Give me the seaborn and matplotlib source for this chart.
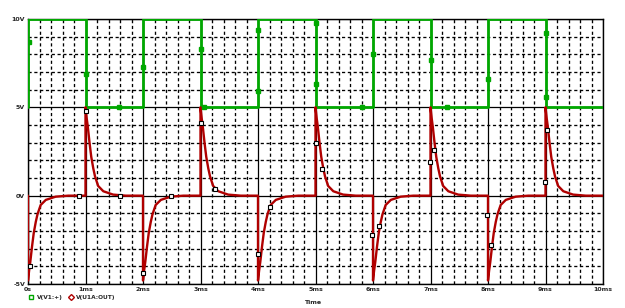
import matplotlib
matplotlib.use("Agg")
import matplotlib.pyplot as plt
import seaborn as sns
import numpy as np
import pandas as pd

# ---------------- data ----------------
edge_times_ms = [0, 1, 2, 3, 4, 5, 6, 7, 8, 9]
green_levels = [10, 5, 10, 5, 10, 5, 10, 5, 10, 5]          # V(V1:+) after each edge
green_start = 5
spike_peaks = [-4.8, 5.0, -4.8, 5.0, -4.8, 5.0, -4.8, 5.0, -4.8, 5.0]  # V(U1A:OUT) at edges
decay_offsets_ms = [0, 0.02, 0.04, 0.07, 0.10, 0.135, 0.165, 0.22, 0.31, 0.48, 0.7]
decay_fraction = [1.0, 0.88, 0.78, 0.60, 0.44, 0.31, 0.22, 0.11, 0.05, 0.012, 0.0]

green_marker_t = [0.01, 1.0, 1.58, 2.0, 3.0, 3.06, 4.0, 4.0, 5.0, 5.0, 5.81, 6.0, 7.0, 7.29, 8.0, 9.0, 9.0]
green_marker_v = [8.7, 6.9, 5.0, 7.3, 8.3, 5.0, 9.4, 5.9, 9.8, 6.3, 5.0, 8.0, 7.7, 5.0, 6.6, 9.2, 5.6]
red_marker_t = [0.03, 0.89, 1.0, 1.6, 2.0, 2.49, 3.0, 3.25, 4.0, 4.2, 5.0, 5.12, 5.99, 6.1, 6.99, 7.06, 7.98, 8.05, 8.99, 9.03]
red_marker_v = [-3.97, 0.0, 4.8, 0.0, -4.4, 0.0, 4.1, 0.4, -3.3, -0.66, 3.0, 1.5, -2.2, -1.74, 1.9, 2.57, -1.08, -2.8, 0.76, 3.7]

x_ticks_ms = [0, 1, 2, 3, 4, 5, 6, 7, 8, 9, 10]
x_tick_labels = ["0s", "1ms", "2ms", "3ms", "4ms", "5ms", "6ms", "7ms", "8ms", "9ms", "10ms"]
y_ticks = [-5, 0, 5, 10]
y_tick_labels = ["-5V", "0V", "5V", "10V"]
legend_labels = ["V(V1:+)", "V(U1A:OUT)"]

# ---------------- build traces ----------------
gt, gv = [0.0], [green_start]
for t, lev in zip(edge_times_ms, green_levels):
    gt += [t, t + 1.0]
    gv += [lev, lev]
green_df = pd.DataFrame({"t": gt, "v": gv, "s": legend_labels[0]})

rt, rv = [], []
for t, a in zip(edge_times_ms, spike_peaks):
    rt.append(t); rv.append(0.0)
    for o, f in zip(decay_offsets_ms, decay_fraction):
        rt.append(t + o); rv.append(a * f)
    rt.append(t + 1.0); rv.append(0.0)
red_df = pd.DataFrame({"t": rt, "v": rv, "s": legend_labels[1]})

GREEN = "#00A800"
RED = "#B00000"

sns.set_theme(style="white")
plt.rcParams["font.family"] = ["DejaVu Sans"]

fig = plt.figure(figsize=(6.25, 3.08), dpi=100)
ax = fig.add_axes([28 / 625, 1 - 284 / 308, 575 / 625, 265 / 308])

# grid
DASH = (0, (2.4, 2.0))
for xm in np.arange(0, 10.01, 0.2):
    major = abs(xm - round(xm)) < 1e-6
    if major:
        ax.axvline(xm, color="black", lw=0.9, zorder=1)
    else:
        ax.axvline(xm, color="black", lw=0.95, ls=DASH, zorder=1)
for ym in range(-5, 11):
    if ym % 5 == 0:
        ax.axhline(ym, color="black", lw=0.9, zorder=1)
    else:
        ax.axhline(ym, color="black", lw=0.95, ls=DASH, zorder=1)

sns.lineplot(data=green_df, x="t", y="v", sort=False, estimator=None, color=GREEN,
             lw=2.0, ax=ax, zorder=3, legend=False)
sns.lineplot(data=red_df, x="t", y="v", sort=False, estimator=None, color=RED,
             lw=1.7, ax=ax, zorder=4, legend=False)
ax.plot(green_marker_t, green_marker_v, ls="none", marker="s", ms=3.2, mfc=GREEN,
        mec=GREEN, zorder=5)
ax.plot(red_marker_t, red_marker_v, ls="none", marker="s", ms=3.4, mfc="white",
        mec="black", mew=0.8, zorder=6)

ax.set_xlim(0, 10)
ax.set_ylim(-5, 10)
ax.set_xticks(x_ticks_ms)
ax.set_xticklabels(x_tick_labels, fontsize=4.5, fontweight="bold")
ax.set_yticks(y_ticks)
ax.set_yticklabels(y_tick_labels, fontsize=4.5, fontweight="bold")
ax.tick_params(length=0, pad=2)
ax.set_xlabel("")
ax.set_ylabel("")
for s in ax.spines.values():
    s.set_color("black")
    s.set_linewidth(1.0)

fig.text(313 / 625, 1 - 303 / 308, "Time", fontsize=4.5, fontweight="bold",
         ha="center", va="center")

# legend below axes
ly = 1 - 297 / 308
fig.lines.append(plt.Line2D([31 / 625], [ly], transform=fig.transFigure, ls="none",
                            marker="s", ms=3.2, mfc="white", mec=GREEN, mew=1.0))
fig.text(37 / 625, ly, legend_labels[0], fontsize=4.2, fontweight="bold", va="center")
fig.lines.append(plt.Line2D([71 / 625], [ly], transform=fig.transFigure, ls="none",
                            marker="D", ms=3.0, mfc="white", mec=RED, mew=1.0))
fig.text(76 / 625, ly, legend_labels[1], fontsize=4.2, fontweight="bold", va="center")

fig.savefig("out.png", dpi=100, facecolor="white")
